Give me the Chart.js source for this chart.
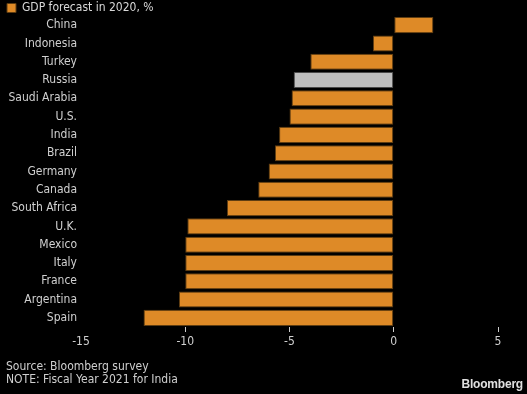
<!DOCTYPE html>
<html>
<head>
<meta charset="utf-8">
<script src="https://cdn.jsdelivr.net/npm/chart.js@4"></script>
<style>
  html, body { margin: 0; padding: 0; background: #000; }
  #wrap { position: relative; width: 527px; height: 394px; }
  .foot { position: absolute; left: 6px; color: #cfcfcf; font: 12px 'DejaVu Sans Condensed', 'Liberation Sans Narrow', 'Liberation Sans', sans-serif; line-height: 13px; }
  .brand { position: absolute; right: 4px; top: 377px; color: #e0e0e0; font: bold 12px 'Liberation Sans', Arial, sans-serif; letter-spacing: -0.2px; }
</style>
</head>
<body>
<div id="wrap">
  <canvas id="chart" width="527" height="394"></canvas>
  <div class="foot" style="top:360px">Source: Bloomberg survey<br>NOTE: Fiscal Year 2021 for India</div>
  <div class="brand">Bloomberg</div>
</div>
<script>
const countries = ['China', 'Indonesia', 'Turkey', 'Russia', 'Saudi Arabia', 'U.S.', 'India', 'Brazil',
    'Germany', 'Canada', 'South Africa', 'U.K.', 'Mexico', 'Italy', 'France', 'Argentina', 'Spain']
const gdpForecast = [1.9, -1.0, -4.0, -4.8, -4.9, -5.0, -5.5, -5.7, -6.0, -6.5, -8.0, -9.9, -10.0, -10.0, -10.0, -10.3, -12.0]
const highlighted = 'Russia'
const xTicks = [-15, -10, -5, 0, 5]

const FONT = "'DejaVu Sans Condensed', 'Liberation Sans Narrow', 'Liberation Sans', sans-serif"
const ORANGE = '#de8a27'
const GREY = '#bfbfbf'

Chart.defaults.font.family = FONT
Chart.defaults.font.size = 12
Chart.defaults.color = '#d0d0d0'

new Chart(document.getElementById('chart'), {
    type: 'bar',
    data: {
        labels: countries,
        datasets: [{
            label: 'GDP forecast in 2020, %',
            data: gdpForecast,
            backgroundColor: countries.map(c => c === highlighted ? GREY : ORANGE),
            borderColor: countries.map(c => c === highlighted ? '#4a4a4a' : '#5e3d12'),
            borderWidth: 1,
            borderSkipped: false,
            barPercentage: 0.88,
            categoryPercentage: 1
        }]
    },
    options: {
        indexAxis: 'y',
        responsive: false,
        animation: false,
        layout: { padding: { left: 5, top: 0, right: 29, bottom: 42 } },
        plugins: {
            legend: {
                align: 'start',
                maxHeight: 16,
                labels: { boxWidth: 9, boxHeight: 9, padding: 2, color: '#d8d8d8' }
            },
            tooltip: { enabled: false }
        },
        scales: {
            x: {
                min: -15,
                max: 5,
                afterFit: scale => { scale.height = 25 },
                afterBuildTicks: scale => { scale.ticks = xTicks.map(v => ({ value: v })) },
                border: { display: false },
                grid: {
                    drawOnChartArea: false,
                    drawTicks: true,
                    tickLength: 5,
                    color: ctx => ctx.tick && ctx.tick.value === -15 ? 'rgba(0,0,0,0)' : '#cccccc'
                },
                ticks: { padding: 3, color: '#d0d0d0' }
            },
            y: {
                afterFit: scale => { scale.width = 76 },
                border: { display: false },
                grid: { display: false, drawTicks: false },
                ticks: { padding: 4, color: '#d0d0d0' }
            }
        }
    }
})
</script>
</body>
</html>
